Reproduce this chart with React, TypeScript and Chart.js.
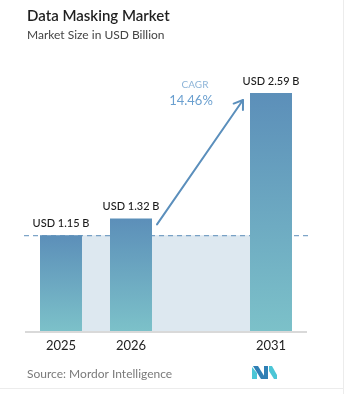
import React, { useEffect, useRef } from "react";
import { Chart, registerables } from "chart.js";

Chart.register(...registerables);

// Market size per year (USD billion); the blank slot keeps the gap before 2031
const years = ["2025", "2026", "", "2031"];
const marketSize: (number | null)[] = [1.15, 1.32, null, 2.59];
const valueLabels = ["USD 1.15 B", "USD 1.32 B", "", "USD 2.59 B"];
const cagrLabel = "CAGR";
const cagrValue = "14.46%";

const FONT = "Lato, 'Open Sans', sans-serif";

function barGradient(ctx: CanvasRenderingContext2D, top: number, bottom: number) {
  const g = ctx.createLinearGradient(0, top, 0, bottom);
  g.addColorStop(0, "#5c8fb9");
  g.addColorStop(1, "#7cc1c9");
  return g;
}

const decorPlugin = {
  id: "decor",
  beforeDatasetsDraw(chart: any) {
    const { ctx, scales, chartArea } = chart;
    const meta = chart.getDatasetMeta(0);
    const first = meta.data[0];
    const last = meta.data[3];
    const baseY = scales.y.getPixelForValue(marketSize[0] as number);
    const left = first.x - first.width / 2;
    const right = last.x - last.width / 2;
    ctx.save();
    // shaded band at the first year's level
    ctx.fillStyle = "#dde8f0";
    ctx.fillRect(left, baseY, right - left, chartArea.bottom - baseY);
    // dashed reference line
    ctx.strokeStyle = "#5e8fba";
    ctx.lineWidth = 1;
    ctx.setLineDash([5, 4]);
    ctx.beginPath();
    ctx.moveTo(chartArea.left - 2, baseY + 0.5);
    ctx.lineTo(chartArea.right + 2, baseY + 0.5);
    ctx.stroke();
    ctx.restore();
  },
  afterDraw(chart: any) {
    const { ctx, scales, chartArea } = chart;
    const meta = chart.getDatasetMeta(0);
    ctx.save();

    // title and subtitle
    ctx.textBaseline = "middle";
    ctx.textAlign = "left";
    ctx.fillStyle = "#1f1f1f";
    ctx.font = `600 15px ${FONT}`;
    ctx.fillText("Data Masking Market", 27, 16);
    ctx.fillStyle = "#444";
    ctx.font = `12px ${FONT}`;
    ctx.fillText("Market Size in USD Billion", 27, 35);

    // baseline
    ctx.strokeStyle = "#d9d9d9";
    ctx.lineWidth = 2;
    ctx.beginPath();
    ctx.moveTo(chartArea.left - 1, chartArea.bottom + 1);
    ctx.lineTo(chartArea.right + 1, chartArea.bottom + 1);
    ctx.stroke();

    // value labels and year labels
    ctx.textAlign = "center";
    meta.data.forEach((bar: any, i: number) => {
      if (marketSize[i] == null) return;
      ctx.fillStyle = "#1a1a1a";
      ctx.font = `500 11px ${FONT}`;
      ctx.fillText(valueLabels[i], bar.x, bar.y - 12);
      ctx.fillStyle = "#222";
      ctx.font = `13px ${FONT}`;
      ctx.fillText(years[i], bar.x, chartArea.bottom + 15);
    });

    // growth arrow from 2026 to 2031
    const b1 = meta.data[1];
    const b3 = meta.data[3];
    const sx = b1.x + b1.width / 2 + 5;
    const sy = scales.y.getPixelForValue(marketSize[1] as number) + 6;
    const ex = b3.x - b3.width / 2 - 7;
    const ey = scales.y.getPixelForValue(marketSize[3] as number) + 7;
    ctx.strokeStyle = "#5b8fbc";
    ctx.lineWidth = 2;
    ctx.lineCap = "round";
    ctx.lineJoin = "round";
    ctx.beginPath();
    ctx.moveTo(sx, sy);
    ctx.lineTo(ex, ey);
    ctx.stroke();
    const ang = Math.atan2(ey - sy, ex - sx);
    const head = 10;
    ctx.beginPath();
    ctx.moveTo(ex + head * Math.cos(ang + Math.PI - 0.6), ey + head * Math.sin(ang + Math.PI - 0.6));
    ctx.lineTo(ex, ey);
    ctx.lineTo(ex + head * Math.cos(ang + Math.PI + 0.6), ey + head * Math.sin(ang + Math.PI + 0.6));
    ctx.stroke();

    // CAGR annotation
    ctx.textAlign = "center";
    ctx.fillStyle = "#8db4d8";
    ctx.font = `10px ${FONT}`;
    ctx.fillText(cagrLabel, ex - 48, ey - 15);
    ctx.fillStyle = "#6a9fcf";
    ctx.font = `13px ${FONT}`;
    ctx.fillText(cagrValue, ex - 52, ey + 1);

    // source line
    ctx.textAlign = "left";
    ctx.fillStyle = "#7a7a7a";
    ctx.font = `12px ${FONT}`;
    ctx.fillText("Source: Mordor Intelligence", 27, 374);

    // logo mark
    const poly = (pts: number[][], color: string) => {
      ctx.fillStyle = color;
      ctx.beginPath();
      ctx.moveTo(pts[0][0], pts[0][1]);
      pts.slice(1).forEach((p) => ctx.lineTo(p[0], p[1]));
      ctx.closePath();
      ctx.fill();
    };
    poly([[252, 367], [257, 373], [257, 379], [252, 379]], "#4cc6d6");
    poly([[253, 366], [258, 366], [266, 379], [261, 379]], "#2f7fb5");
    poly([[264, 366], [268, 366], [268, 379], [264, 379]], "#2f7fb5");
    poly([[269, 366], [272, 366], [277, 375], [277, 379], [274, 379], [269, 371]], "#4cc6d6");

    // bottom rule and right edge
    ctx.strokeStyle = "#ececec";
    ctx.lineWidth = 1;
    ctx.beginPath();
    ctx.moveTo(0, 388.5);
    ctx.lineTo(344, 388.5);
    ctx.moveTo(343.5, 0);
    ctx.lineTo(343.5, 394);
    ctx.stroke();

    ctx.restore();
  },
};

export default function App() {
  const canvasRef = useRef<HTMLCanvasElement>(null);

  useEffect(() => {
    if (!canvasRef.current) return;
    const chart = new Chart(canvasRef.current, {
      type: "bar",
      data: {
        labels: years,
        datasets: [
          {
            data: marketSize,
            backgroundColor: (c: any) => {
              const { chart: ch, raw } = c;
              if (!ch.chartArea || raw == null) return "#6aa3bf";
              const top = ch.scales.y.getPixelForValue(raw);
              return barGradient(ch.ctx, top, ch.chartArea.bottom);
            },
            borderWidth: 0,
            barPercentage: 0.6,
            categoryPercentage: 1,
          },
        ],
      },
      options: {
        responsive: false,
        animation: false,
        layout: { padding: { left: 26, right: 38, top: 93, bottom: 63 } },
        plugins: { legend: { display: false }, tooltip: { enabled: false } },
        scales: {
          x: { display: false },
          y: { display: false, min: 0.18, max: 2.59 },
        },
      },
      plugins: [decorPlugin],
    });
    return () => chart.destroy();
  }, []);

  return (
    <div style={{ position: "absolute", left: 0, top: 0, width: 344, height: 394, background: "#fff" }}>
      <canvas ref={canvasRef} width={344} height={394} />
    </div>
  );
}
